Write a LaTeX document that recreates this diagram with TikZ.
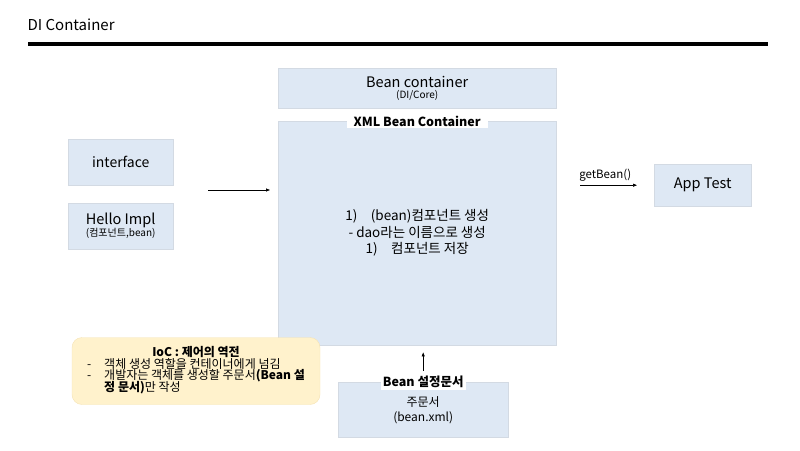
\documentclass[tikz,border=0pt]{standalone}
\usepackage{fontspec}
\setmainfont{Noto Sans CJK KR}
\usetikzlibrary{positioning,arrows.meta}

\definecolor{boxblue}{HTML}{DEE8F4}
\definecolor{boxline}{HTML}{D3DAE3}
\definecolor{notefill}{HTML}{FFF2CC}
\definecolor{noteline}{HTML}{F5E3B5}

\begin{document}
\begin{tikzpicture}[x=1pt,y=-1pt,
    box/.style={draw=boxline,fill=boxblue,anchor=north west,inner sep=0pt,align=center},
    tag/.style={fill=white,inner sep=2pt,font=\bfseries\fontsize{12.5}{14}\selectfont},
    flow/.style={-{Triangle[length=4pt,width=3pt]},line width=0.7pt},
    note/.style={draw=noteline,fill=notefill,rounded corners=10pt,minimum width=248pt,minimum height=67pt,inner sep=0pt}]
    \useasboundingbox (0,0) rectangle (800,450);

    % title and rule
    \node[anchor=west,font=\fontsize{15}{17}\selectfont] (title) at (24,25) {DI Container};
    \draw[line width=4pt] (28,44) -- (768,44);

    % container boxes
    \node[box,minimum width=278pt,minimum height=40pt] (bean) at (278,68)
        {{\fontsize{14.5}{16}\selectfont Bean container}\\[-1pt]{\fontsize{10}{11}\selectfont (DI/Core)}};
    \node[box,minimum width=278pt,minimum height=224pt,font=\fontsize{13.5}{16.5}\selectfont] (xml) at (278,121)
        {1)\quad(bean)컴포넌트 생성\\- dao라는 이름으로 생성\\1)\quad 컴포넌트 저장};
    \node[tag,inner xsep=7pt] (xmltag) at (xml.north) {XML Bean Container};

    % left side
    \node[box,minimum width=105pt,minimum height=46pt,font=\fontsize{14}{16}\selectfont] (iface) at (68,139) {interface};
    \node[box,minimum width=105pt,minimum height=46pt] (impl) at (68,203)
        {{\fontsize{14.5}{16}\selectfont Hello Impl}\\[0pt]{\fontsize{10}{11}\selectfont (컴포넌트,bean)}};
    \coordinate (in) at (173,190);
    \draw[flow,shorten <=35pt,shorten >=8pt] (in) -- (in -| xml.west);

    % right side
    \node[box,minimum width=97pt,minimum height=42pt,font=\fontsize{14.5}{16}\selectfont] (app) at (654,164) {App Test};
    \draw[flow,shorten <=24pt,shorten >=17pt] (xml.east |- app.west) -- (app.west)
        node[midway,above=0pt,font=\fontsize{11.5}{12}\selectfont] (get) {getBean()};

    % order document
    \node[box,minimum width=170pt,minimum height=55pt,font=\fontsize{12}{15}\selectfont] (order) at (338,382)
        {\\[-4pt]주문서\\(bean.xml)};
    \node[tag] (ordertag) at (order.north) {Bean 설정문서};
    \draw[flow,shorten <=3pt,shorten >=7pt] (ordertag.north) -- (ordertag.north |- xml.south);

    % IoC note
    \node[note] (ioc) at (196,371) {\fontsize{12}{14.5}\selectfont
        \begin{tabular}{@{}l@{\hspace{13pt}}l@{}}
            \multicolumn{2}{c}{\textbf{IoC : 제어의 역전}}\\[-3pt]
            - & 객체 생성 역할을 컨테이너에게 넘김\\[-3pt]
            - & 개발자는 객체를 생성할 주문서\textbf{(Bean 설}\\[-3pt]
              & \textbf{정 문서)}만 작성
        \end{tabular}};
\end{tikzpicture}
\end{document}
